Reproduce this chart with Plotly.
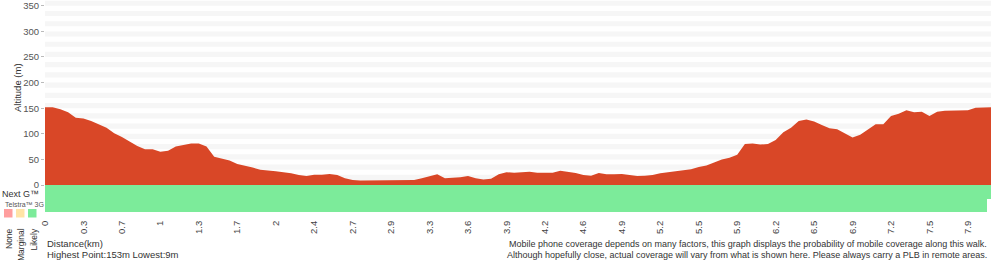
import plotly.graph_objects as go

# ---------------- data ----------------
elevation = [
    152, 152, 148, 142, 131.5, 130, 125, 119, 112, 101,
    94, 85, 76, 70, 70, 65, 67, 75, 78, 81,
    81, 75, 55, 52, 48, 41, 38, 34, 30, 29,
    27, 25, 23, 19.5, 17.6, 20, 20, 21.5, 19.5, 13,
    10, 9, 9, 9, 9, 9, 9, 9, 10, 13,
    17.6, 21, 13, 14, 15, 17.6, 13, 11, 12, 21,
    25, 24, 25, 26, 24, 23.5, 24, 28, 26, 23.5,
    19.5, 18, 23.5, 21, 21, 21.5, 19.5, 17.6, 18, 19.5,
    23, 25, 27, 30, 31, 35, 38, 44, 50, 53,
    59, 80, 81, 79, 80, 88, 103, 112, 125, 128,
    124, 117, 111, 109, 101, 93, 98, 108, 118.5, 118.5,
    135, 139, 146, 142, 143, 135, 143, 145, 145, 145,
    146, 151, 151, 152,
]
tick_labels = ["0", "0.3", "0.7", "1", "1.3", "1.7", "2", "2.4", "2.7", "2.9",
               "3.3", "3.6", "3.9", "4.2", "4.6", "4.9", "5.2", "5.5", "5.9",
               "6.2", "6.5", "6.9", "7.2", "7.5", "7.9"]
samples_per_tick = 5
coverage_nextg = ["Likely"] * len(elevation)
coverage_3g = ["Likely"] * (len(elevation) - 1) + [None]
coverage_levels = ["None", "Marginal", "Likely"]
y_ticks = [0, 50, 100, 150, 200, 250, 300, 350]

# ---------------- styling ----------------
RED = "#d94727"
COLORS = {"None": "#ff9e9e", "Marginal": "#ffe4a6", "Likely": "#7ceb9a"}
FONT = "Liberation Sans, Arial, sans-serif"
W, H = 1000, 260
L, R, T, B = 45, 9, 0, 48
PW, PH = W - L - R, H - T - B
Y0, Y1 = -52.7, 361.3
ROW1 = (-27.3, 0)
ROW2 = (-52.7, -27.3)

def px(x):
    return (x - L) / PW

def py(y):
    return (H - B - y) / PH

xs = list(range(len(elevation)))
fig = go.Figure()

def cov_trace(cov, row):
    ys, cols, xx = [], [], []
    for i, c in zip(xs, cov):
        if c is None:
            continue
        xx.append(i)
        ys.append(row[1] - row[0])
        cols.append(COLORS[c])
    return go.Bar(x=xx, y=ys, base=row[0], width=1, marker=dict(color=cols, line=dict(width=0)),
                  hoverinfo="skip", showlegend=False)

fig.add_trace(cov_trace(coverage_nextg, ROW1))
fig.add_trace(cov_trace(coverage_3g, ROW2))
fig.add_trace(go.Scatter(x=xs, y=elevation, mode="lines", fill="tozeroy",
                         line=dict(width=0, color=RED), fillcolor=RED,
                         hoverinfo="skip", showlegend=False))

shapes = []
for k in range(1, 36, 2):
    shapes.append(dict(type="rect", xref="paper", yref="y", x0=0, x1=1,
                       y0=k * 10, y1=k * 10 + 10, fillcolor="#f6f6f6",
                       line=dict(width=0), layer="below"))
# legend squares
for lvl, x0 in zip(coverage_levels, [4, 16, 28]):
    shapes.append(dict(type="rect", xref="paper", yref="paper",
                       x0=px(x0), x1=px(x0 + 8.5), y0=py(209), y1=py(217.5),
                       fillcolor=COLORS[lvl], line=dict(width=0)))

ann = []
def text(t, x, y, size, xanchor="left", yanchor="middle", color="#333", angle=0):
    ann.append(dict(text=t, xref="paper", yref="paper", x=px(x), y=py(y),
                    xanchor=xanchor, yanchor=yanchor, showarrow=False,
                    textangle=angle, font=dict(family=FONT, size=size, color=color)))

text("Next G™", 0, 193.5, 9)
text("Telstra™ 3G", 3, 204.5, 7, color="#555")
for lvl, xc in zip(coverage_levels, [9, 21, 33]):
    text(lvl, xc, 226.5, 8.5, xanchor="center", yanchor="top", angle=-90)
text("Altitude (m)", 17, 88, 9.5, xanchor="center", angle=-90)
text("Distance(km)", 45, 243.5, 9.5)
text("Highest Point:153m Lowest:9m", 45, 254.5, 9.5)
text("Mobile phone coverage depends on many factors, this graph displays the probability of mobile coverage along this walk.",
     989, 243.5, 9, xanchor="right")
text("Although hopefully close, actual coverage will vary from what is shown here. Please always carry a PLB in remote areas.",
     989, 254.5, 9, xanchor="right")

tickvals = [i * samples_per_tick for i in range(len(tick_labels))]
fig.update_layout(
    width=W, height=H, margin=dict(l=L, r=R, t=T, b=B, pad=0),
    paper_bgcolor="white", plot_bgcolor="white",
    barmode="overlay", bargap=0,
    shapes=shapes, annotations=ann,
    font=dict(family=FONT, color="#444"),
    xaxis=dict(range=[0, len(elevation) - 1], tickvals=tickvals, ticktext=tick_labels,
               tickangle=-90, showgrid=False, zeroline=False, showline=False,
               ticks="outside", ticklen=4, tickcolor="rgba(0,0,0,0)",
               tickfont=dict(size=9.5, color="#444"), fixedrange=True),
    yaxis=dict(range=[Y0, Y1], tickvals=y_ticks, showgrid=False, zeroline=False,
               showline=False, ticks="outside", ticklen=3, tickcolor="#bbb",
               tickfont=dict(size=9.5, color="#555"), fixedrange=True),
)

fig.write_html("out.html", config={"displayModeBar": False})
